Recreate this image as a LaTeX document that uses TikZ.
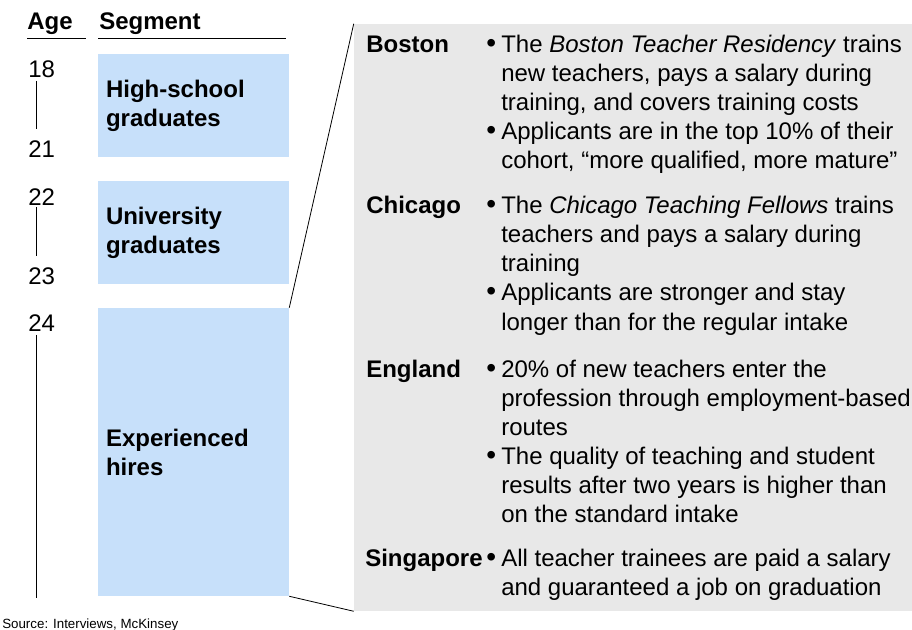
\documentclass[tikz,border=0pt]{standalone}
\usepackage{fontspec}
\setmainfont{Liberation Sans}
\definecolor{segblue}{RGB}{199,224,250}
\definecolor{panelgrey}{RGB}{232,232,232}
\newcommand{\bodyfont}{\fontsize{18}{21.75}\selectfont}
\begin{document}
\begin{tikzpicture}[x=0.75pt,y=0.75pt,yscale=-1,xscale=1,
  txt/.style={anchor=base west,inner sep=0pt,font=\bodyfont,align=left},
  head/.style={txt,font=\bodyfont\bfseries},
  dot/.style={txt,font=\fontsize{21}{21.75}\selectfont},
  segbox/.style={fill=segblue,draw=none,minimum width=143.25pt,inner xsep=6pt,text width=131.25pt,align=left,font=\bodyfont\bfseries},
  ageline/.style={draw=black,line width=0.6pt},
  funnel/.style={draw=black,line width=0.6pt}]
\useasboundingbox (0,0) rectangle (912,630);

% grey panel
\node[fill=panelgrey,minimum width=418.5pt,minimum height=440.25pt,inner sep=0pt] (panel) at (633,317.5) {};

% headers
\node[head] (age) at (27,30) {Age};
\node[head] (seg) at (99,30) {Segment};
\draw[ageline] (27,38) -- (86,38);
\draw[ageline] (98,38) -- (286,38);

% segments
\node[segbox,minimum height=77.25pt] (hs) at (193.5,105.5) {High-school\\graduates};
\node[segbox,minimum height=77.25pt] (uni) at (193.5,232.5) {University\\graduates};
\node[segbox,minimum height=216pt] (exp) at (193.5,452) {Experienced\\hires};

% ages
\node[txt] (a18) at (28,78) {18};
\node[txt] (a21) at (28,158) {21};
\node[txt] (a22) at (28,206) {22};
\node[txt] (a23) at (28,285) {23};
\node[txt] (a24) at (28,332) {24};
\coordinate (t18) at (36,81);
\coordinate (b21) at (36,129);
\coordinate (t22) at (36,207);
\coordinate (b23) at (36,256);
\coordinate (t24) at (36,335);
\coordinate (b24) at (36,598);
\draw[ageline] (t18) -- (b21);
\draw[ageline] (t22) -- (b23);
\draw[ageline] (t24) -- (b24);

% funnel
\draw[funnel] (exp.north east) -- (panel.north west);
\draw[funnel] (exp.south east) -- (panel.south west);

% cities (text nodes sit on the baseline of their last line)
\node[head] (boston) at (366,53) {Boston};
\node[dot] (bos1b) at (486,53) {•};
\node[txt] (bos1) at (501,111) {The \textit{Boston Teacher Residency} trains\\new teachers, pays a salary during\\training, and covers training costs};
\node[dot] (bos2b) at (486,140) {•};
\node[txt] (bos2) at (501,169) {Applicants are in the top 10\% of their\\cohort, “more qualified, more mature”};

\node[head] (chicago) at (366,214) {Chicago};
\node[dot] (chi1b) at (486,214) {•};
\node[txt] (chi1) at (501,272) {The \textit{Chicago Teaching Fellows} trains\\teachers and pays a salary during\\training};
\node[dot] (chi2b) at (486,301) {•};
\node[txt] (chi2) at (501,330) {Applicants are stronger and stay\\longer than for the regular intake};

\node[head] (england) at (366,377) {England};
\node[dot] (eng1b) at (486,377) {•};
\node[txt] (eng1) at (501,435) {20\% of new teachers enter the\\profession through employment-based\\routes};
\node[dot] (eng2b) at (486,464) {•};
\node[txt] (eng2) at (501,522) {The quality of teaching and student\\results after two years is higher than\\on the standard intake};

\node[head] (singapore) at (365,566) {Singapore};
\node[dot] (sin1b) at (486,566) {•};
\node[txt] (sin1) at (501,595) {All teacher trainees are paid a salary\\and guaranteed a job on graduation};

% source
\node[txt,font=\fontsize{10}{12}\selectfont] (source) at (2,628) {Source: Interviews, McKinsey};
\end{tikzpicture}
\end{document}
